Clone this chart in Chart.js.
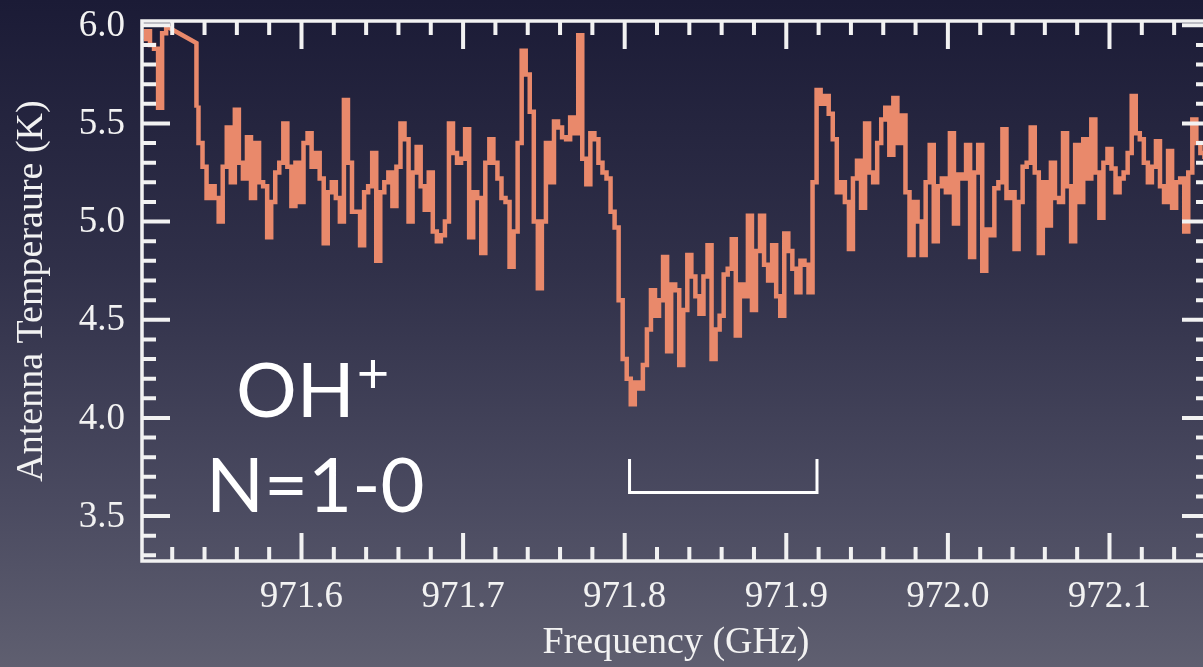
<!DOCTYPE html>
<html lang="en">
<head>
  <meta charset="UTF-8">
  <title>OH+ N=1-0</title>
  <script src="https://cdn.jsdelivr.net/npm/chart.js"></script>
  <style>
    html, body {
      margin: 0;
      padding: 0;
      width: 1203px;
      height: 667px;
      overflow: hidden;
    }

    body {
      background: linear-gradient(to bottom, #1b1b36 0%, #303049 40%, #4a4a60 75%, #5f5f70 100%);
    }

    #spectrum {
      position: absolute;
      left: 0;
      top: 0;
    }
  </style>
</head>
<body>
  <canvas id="spectrum" width="1215" height="667"></canvas>

  <script>
    // channel grid (GHz)
    const CHANNEL = 0.0025;
    const FIRST_START = 971.5025;
    const MAIN_START = 971.535;

    // first few channels before the interpolated gap
    const firstTemps = [5.93, 5.97, 5.90, 5.88, 5.58, 5.96, 5.99];

    // interpolated stretch between the two blocks
    const gapFreqs = [971.5175, 971.535, 971.535];
    const gapTemps = [5.99, 5.91, 5.58];

    // antenna temperature (K), one value per channel from MAIN_START
    const mainTemps = [
      5.58, 5.40, 5.28, 5.12, 5.18, 5.12, 5.00, 5.28, 5.48, 5.20,
      5.57, 5.30, 5.22, 5.43, 5.12, 5.40, 5.20, 5.18, 4.92, 5.10,
      5.25, 5.30, 5.50, 5.28, 5.08, 5.30, 5.10, 5.40, 5.45, 5.28,
      5.35, 5.22, 4.89, 5.15, 5.20, 5.12, 5.00, 5.62, 5.30, 5.05,
      5.05, 4.88, 5.15, 5.18, 5.35, 4.80, 5.15, 5.20, 5.25, 5.08,
      5.28, 5.50, 5.42, 5.00, 5.25, 5.38, 5.18, 5.06, 5.25, 4.95,
      4.90, 4.93, 5.00, 5.50, 5.35, 5.30, 5.32, 5.47, 4.92, 5.15,
      5.12, 4.84, 5.30, 5.42, 5.30, 5.22, 5.12, 5.10, 4.77, 4.95,
      5.40, 5.87, 5.75, 5.56, 5.00, 4.66, 5.00, 5.40, 5.20, 5.51,
      5.48, 5.43, 5.42, 5.53, 5.45, 5.95, 5.32, 5.19, 5.45, 5.42,
      5.30, 5.25, 5.22, 5.05, 4.97, 4.60, 4.30, 4.20, 4.07, 4.18,
      4.15, 4.27, 4.45, 4.65, 4.52, 4.60, 4.82, 4.34, 4.68, 4.65,
      4.27, 4.55, 4.83, 4.72, 4.62, 4.53, 4.72, 4.88, 4.30, 4.45,
      4.52, 4.73, 4.76, 4.91, 4.42, 4.68, 4.62, 5.03, 4.55, 4.85,
      5.03, 4.78, 4.70, 4.88, 4.62, 4.52, 4.94, 4.85, 4.76, 4.64,
      4.80, 4.78, 4.64, 5.20, 5.67, 5.60, 5.64, 5.55, 5.42, 5.15,
      5.20, 5.10, 4.86, 5.22, 5.31, 5.07, 5.50, 5.25, 5.20, 5.40,
      5.52, 5.58, 5.34, 5.63, 5.40, 5.54, 5.15, 4.83, 5.10, 5.00,
      4.83, 5.20, 5.39, 4.90, 5.18, 5.22, 5.15, 5.45, 4.99, 5.24,
      5.22, 5.39, 4.82, 5.25, 5.39, 4.75, 4.96, 4.93, 5.17, 5.20,
      5.47, 5.12, 5.15, 4.86, 5.10, 5.28, 5.30, 5.48, 5.25, 4.84,
      5.20, 4.98, 5.30, 5.12, 5.10, 5.45, 5.18, 4.90, 5.39, 5.10,
      5.42, 5.22, 5.52, 5.25, 5.02, 5.30, 5.37, 5.27, 5.15, 5.22,
      5.25, 5.35, 5.64, 5.45, 5.42, 5.30, 5.20, 5.28, 5.41, 5.18,
      5.10, 5.36, 5.07, 5.20, 5.22, 4.95, 5.25, 5.52, 5.40, 5.35,
      5.33
    ];

    // velocity range bracket
    const bracketFreqs = [971.803, 971.803, 971.919, 971.919];
    const bracketTemps = [3.79, 3.62, 3.62, 3.79];

    const xTicks = [971.6, 971.7, 971.8, 971.9, 972.0, 972.1];
    const yTicks = [3.5, 4.0, 4.5, 5.0, 5.5, 6.0];

    const INK = '#f2f2f2';
    const LINE = '#e9896b';
    const SERIF = "'Liberation Serif', 'Times New Roman', serif";
    const SANS = "Lato, 'Open Sans', sans-serif";

    function channels(start, temps) {
      return temps.map((t, i) => ({ x: start + i * CHANNEL, y: t }));
    }

    function pairs(xs, ys) {
      return xs.map((v, i) => ({ x: v, y: ys[i] }));
    }

    // frame, inward ticks on all four sides, tick labels and the species label
    const frameTicks = {
      id: 'frameTicks',
      afterDatasetsDraw(chart) {
        const { ctx, chartArea: a, scales: { x, y } } = chart;
        ctx.save();
        ctx.strokeStyle = INK;
        ctx.lineWidth = 4;
        ctx.beginPath();
        for (let k = Math.ceil(x.min * 50); k <= Math.floor(x.max * 50); k++) {
          const px = x.getPixelForValue(k / 50);
          const len = k % 5 === 0 ? 28 : 14;
          ctx.moveTo(px, a.bottom); ctx.lineTo(px, a.bottom - len);
          ctx.moveTo(px, a.top); ctx.lineTo(px, a.top + len);
        }
        for (let k = Math.ceil(y.min * 10); k <= Math.floor(y.max * 10); k++) {
          const py = y.getPixelForValue(k / 10);
          const len = k % 5 === 0 ? 28 : 14;
          ctx.moveTo(a.left, py); ctx.lineTo(a.left + len, py);
          ctx.moveTo(a.right, py); ctx.lineTo(a.right - len, py);
        }
        ctx.stroke();
        ctx.lineWidth = 3.5;
        ctx.strokeRect(a.left, a.top, a.right - a.left, a.bottom - a.top);

        // tick labels
        ctx.fillStyle = INK;
        ctx.font = '37px ' + SERIF;
        ctx.textAlign = 'right';
        ctx.textBaseline = 'middle';
        yTicks.forEach(v => ctx.fillText(v.toFixed(1), a.left - 17, y.getPixelForValue(v) + 1));
        ctx.textAlign = 'center';
        ctx.textBaseline = 'alphabetic';
        xTicks.forEach(v => ctx.fillText(v.toFixed(1), x.getPixelForValue(v), a.bottom + 46));

        ctx.fillStyle = '#ffffff';
        ctx.textAlign = 'left';
        ctx.font = '76px ' + SANS;
        ctx.fillText('OH', 236, 417);
        const ohw = ctx.measureText('OH').width;
        ctx.font = '56px ' + SANS;
        ctx.fillText('+', 236 + ohw + 2, 393);
        ctx.font = '76px ' + SANS;
        ctx.fillText('N=1-0', 206, 512);
        ctx.restore();
      }
    };

    Chart.defaults.font.family = SERIF;
    Chart.defaults.color = INK;

    new Chart(document.getElementById('spectrum'), {
      type: 'line',
      data: {
        datasets: [
          { data: channels(FIRST_START, firstTemps), stepped: 'middle', borderColor: LINE, borderWidth: 4.5 },
          { data: pairs(gapFreqs, gapTemps), borderColor: LINE, borderWidth: 4.5 },
          { data: channels(MAIN_START, mainTemps), stepped: 'middle', borderColor: LINE, borderWidth: 4.5 },
          { data: pairs(bracketFreqs, bracketTemps), borderColor: '#ffffff', borderWidth: 3, clip: false }
        ]
      },
      options: {
        responsive: false,
        animation: false,
        events: [],
        elements: { point: { radius: 0 }, line: { tension: 0, fill: false } },
        layout: { padding: { top: 21, right: 5, left: 0, bottom: 0 } },
        plugins: { legend: { display: false }, tooltip: { enabled: false } },
        scales: {
          x: {
            type: 'linear',
            min: 971.5013,
            max: 972.1622,
            afterBuildTicks: s => { s.ticks = xTicks.map(v => ({ value: v })); },
            afterFit: s => { s.height = 106; },
            ticks: { display: false },
            grid: { display: false, drawTicks: false },
            border: { display: false },
            title: {
              display: true,
              text: 'Frequency (GHz)',
              color: INK,
              font: { size: 38 },
              padding: { top: 0, bottom: 1 }
            }
          },
          y: {
            type: 'linear',
            min: 3.271,
            max: 6.022,
            afterBuildTicks: s => { s.ticks = yTicks.map(v => ({ value: v })); },
            afterFit: s => { s.width = 142; },
            ticks: { display: false },
            grid: { display: false, drawTicks: false },
            border: { display: false },
            title: {
              display: true,
              text: 'Antenna Temperaure (K)',
              color: INK,
              font: { size: 38 },
              padding: { top: 9, bottom: 0 }
            }
          }
        }
      },
      plugins: [frameTicks]
    });
  </script>
</body>
</html>
